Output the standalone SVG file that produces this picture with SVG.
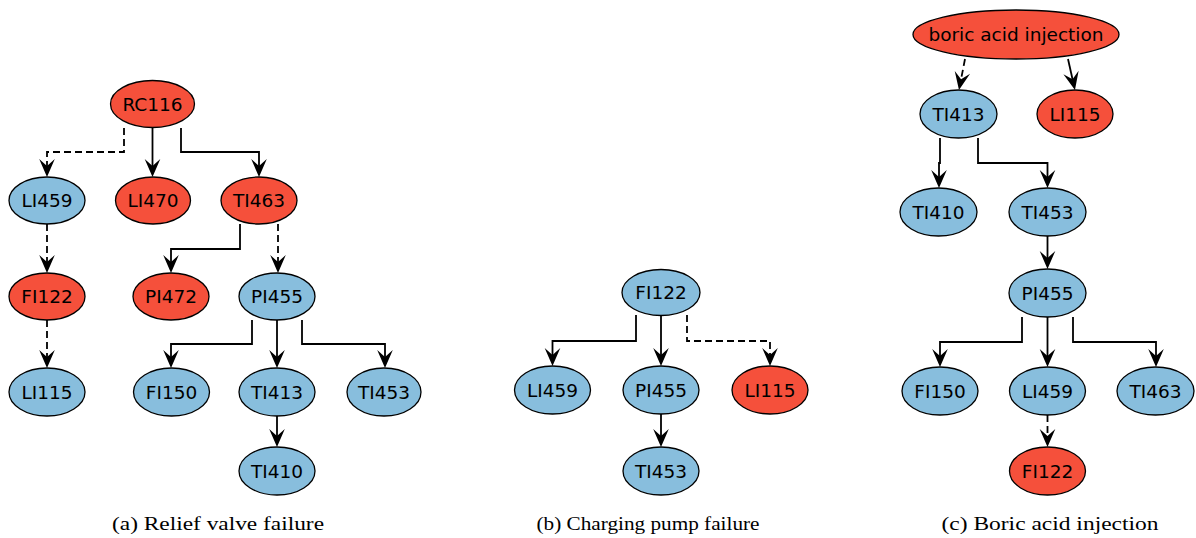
<svg xmlns="http://www.w3.org/2000/svg" width="1196" height="538" viewBox="0 0 1196 538">
<defs>
<style>
.r ellipse{fill:#f5503b}
.b ellipse{fill:#88bedd}
.n ellipse{stroke:#000;stroke-width:1.3}
.n text{font-family:"DejaVu Sans",sans-serif;font-size:18.5px;text-anchor:middle;fill:#000}
#edges path{fill:none;stroke:#000;stroke-width:1.8;marker-end:url(#ah)}
#edges path.d{stroke-dasharray:7,4}
.cap{font-family:"Liberation Serif",serif;font-size:18px;text-anchor:middle;fill:#000}
</style>
<marker id="ah" markerUnits="userSpaceOnUse" markerWidth="40" markerHeight="40" refX="0" refY="0" orient="auto" overflow="visible">
<path d="M8,0 L-10,-7.8 L-3,0 L-10,7.8 Z" fill="#000" stroke="none"/>
</marker>
</defs>
<rect width="1196" height="538" fill="#fff"/>
<g id="edges">
<path class="d" d="M124,128 V152 H47 V169"/>
<path d="M152.5,128 V169"/>
<path d="M181,128 V152 H259 V169"/>
<path class="d" d="M47,224 V265"/>
<path d="M240,224 V249 H171 V265"/>
<path class="d" d="M278,224 V265"/>
<path class="d" d="M47,320 V360"/>
<path d="M252,320 V344 H171 V360"/>
<path d="M277,320 V360"/>
<path d="M302,320 V344 H385 V360"/>
<path d="M277,416 V439"/>
<path d="M636,315 V341 H552.5 V358"/>
<path d="M661,315.5 V358"/>
<path class="d" d="M687,315 V341 H770 V358"/>
<path d="M661,414 V439"/>
<path class="d" d="M965,59 L960.5,82.2"/>
<path d="M1068,59 L1073.2,82.2"/>
<path d="M940,138 V163 H939 V180"/>
<path d="M978,138 V163 H1047.5 V180"/>
<path d="M1047.5,236 V261"/>
<path d="M1022,317 V342 H940 V359"/>
<path d="M1047.5,317 V359"/>
<path d="M1073,317 V342 H1156 V359"/>
<path class="d" d="M1047.5,415 V439"/>
</g>
<g id="a_RC116" class="n r"><ellipse cx="152.5" cy="104" rx="42" ry="23.5"/><text x="152.5" y="110.5">RC116</text></g>
<g id="a_LI459" class="n b"><ellipse cx="47" cy="200.5" rx="38" ry="23.5"/><text x="47" y="207">LI459</text></g>
<g id="a_LI470" class="n r"><ellipse cx="153" cy="200.5" rx="37.5" ry="23.5"/><text x="153" y="207">LI470</text></g>
<g id="a_TI463" class="n r"><ellipse cx="259" cy="200.5" rx="38" ry="23.5"/><text x="259" y="207">TI463</text></g>
<g id="a_FI122" class="n r"><ellipse cx="47" cy="296.5" rx="38" ry="23.5"/><text x="47" y="303">FI122</text></g>
<g id="a_PI472" class="n r"><ellipse cx="171" cy="296.5" rx="38" ry="23.5"/><text x="171" y="303">PI472</text></g>
<g id="a_PI455" class="n b"><ellipse cx="277" cy="296.5" rx="38" ry="23.5"/><text x="277" y="303">PI455</text></g>
<g id="a_LI115" class="n b"><ellipse cx="47" cy="392" rx="38" ry="24"/><text x="47" y="398.5">LI115</text></g>
<g id="a_FI150" class="n b"><ellipse cx="171.5" cy="392" rx="38" ry="24"/><text x="171.5" y="398.5">FI150</text></g>
<g id="a_TI413" class="n b"><ellipse cx="277" cy="392" rx="38" ry="24"/><text x="277" y="398.5">TI413</text></g>
<g id="a_TI453" class="n b"><ellipse cx="384" cy="392" rx="37" ry="24"/><text x="384" y="398.5">TI453</text></g>
<g id="a_TI410" class="n b"><ellipse cx="277" cy="471" rx="38" ry="24"/><text x="277" y="477.5">TI410</text></g>
<g id="b_FI122" class="n b"><ellipse cx="661" cy="292.5" rx="39" ry="23"/><text x="661" y="299">FI122</text></g>
<g id="b_LI459" class="n b"><ellipse cx="552.5" cy="390" rx="38" ry="24"/><text x="552.5" y="396.5">LI459</text></g>
<g id="b_PI455" class="n b"><ellipse cx="661" cy="390" rx="38" ry="24"/><text x="661" y="396.5">PI455</text></g>
<g id="b_LI115" class="n r"><ellipse cx="770" cy="390" rx="38" ry="24"/><text x="770" y="396.5">LI115</text></g>
<g id="b_TI453" class="n b"><ellipse cx="661" cy="471" rx="38" ry="24"/><text x="661" y="477.5">TI453</text></g>
<g id="c_boric" class="n r"><ellipse cx="1016" cy="34.5" rx="103" ry="24.5"/><text x="1016" y="41">boric acid injection</text></g>
<g id="c_TI413" class="n b"><ellipse cx="958.5" cy="114" rx="38.5" ry="24"/><text x="958.5" y="120.5">TI413</text></g>
<g id="c_LI115" class="n r"><ellipse cx="1075" cy="114" rx="38" ry="24"/><text x="1075" y="120.5">LI115</text></g>
<g id="c_TI410" class="n b"><ellipse cx="938.5" cy="212" rx="38.5" ry="24"/><text x="938.5" y="218.5">TI410</text></g>
<g id="c_TI453" class="n b"><ellipse cx="1047.5" cy="212" rx="38.5" ry="24"/><text x="1047.5" y="218.5">TI453</text></g>
<g id="c_PI455" class="n b"><ellipse cx="1047.5" cy="293" rx="38.5" ry="24"/><text x="1047.5" y="299.5">PI455</text></g>
<g id="c_FI150" class="n b"><ellipse cx="940" cy="391" rx="38" ry="24"/><text x="940" y="397.5">FI150</text></g>
<g id="c_LI459" class="n b"><ellipse cx="1047.5" cy="391" rx="38" ry="24"/><text x="1047.5" y="397.5">LI459</text></g>
<g id="c_TI463" class="n b"><ellipse cx="1155.5" cy="391" rx="38.5" ry="24"/><text x="1155.5" y="397.5">TI463</text></g>
<g id="c_FI122" class="n r"><ellipse cx="1047.5" cy="471" rx="38" ry="24"/><text x="1047.5" y="477.5">FI122</text></g>
<g id="captions">
<text class="cap" x="218" y="530" textLength="212" lengthAdjust="spacingAndGlyphs">(a) Relief valve failure</text>
<text class="cap" x="648" y="530" textLength="223" lengthAdjust="spacingAndGlyphs">(b) Charging pump failure</text>
<text class="cap" x="1050" y="530" textLength="217" lengthAdjust="spacingAndGlyphs">(c) Boric acid injection</text>
</g>
</svg>
